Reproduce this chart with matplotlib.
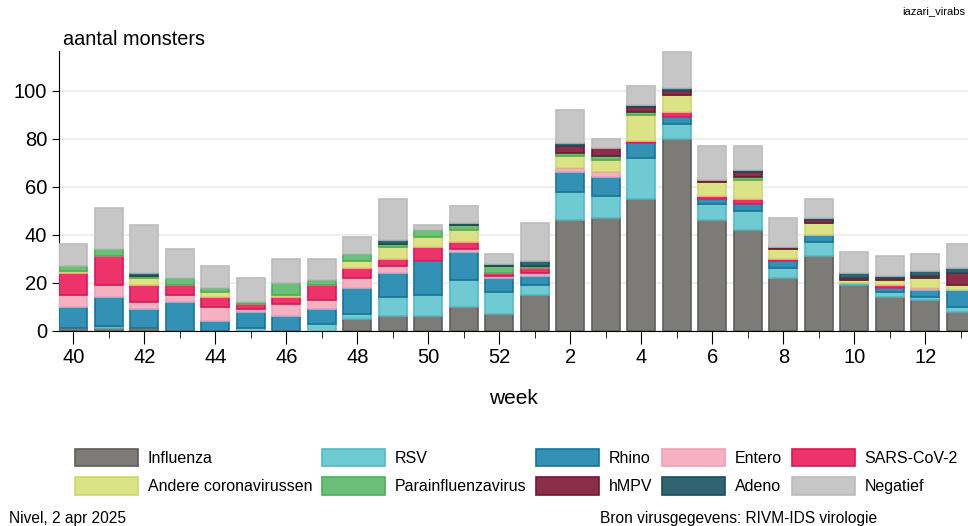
import numpy as np
import matplotlib.pyplot as plt
from matplotlib.patches import Patch

plt.rcParams['font.family'] = ['Liberation Sans', 'DejaVu Sans']

weeks = [40, 41, 42, 43, 44, 45, 46, 47, 48, 49, 50, 51, 52,
         1, 2, 3, 4, 5, 6, 7, 8, 9, 10, 11, 12, 13]

influenza = [1, 1, 1, 0, 0, 0, 0, 0, 5, 6, 6, 10, 7, 15, 46, 47, 55, 80, 46, 42, 22, 31, 19, 14, 13, 8]
rsv = [0, 1, 0, 0, 0, 1, 0, 3, 2, 8, 9, 11, 9, 4, 12, 9, 17, 6, 7, 8, 4, 6, 1, 2, 1, 2]
rhino = [9, 12, 8, 12, 4, 7, 6, 6, 11, 10, 14, 12, 6, 4, 8, 8, 6, 3, 2, 3, 3, 3, 0, 2, 3, 7]
entero = [5, 5, 3, 3, 6, 1, 5, 4, 4, 3, 0, 1, 1, 1, 2, 2, 0, 0, 0, 0, 0, 0, 0, 0, 1, 0]
sars = [9, 12, 7, 4, 4, 2, 3, 6, 4, 3, 6, 3, 1, 2, 0, 0, 1, 2, 1, 2, 1, 0, 0, 1, 0, 0]
corona = [1, 0, 3, 0, 2, 0, 1, 0, 3, 5, 4, 5, 0, 0, 5, 5, 11, 7, 6, 8, 4, 5, 1, 2, 4, 2]
para = [2, 3, 1, 3, 2, 1, 5, 2, 3, 1, 3, 2, 3, 1, 1, 2, 1, 0, 0, 1, 0, 0, 0, 0, 0, 0]
hmpv = [0, 0, 0, 0, 0, 0, 0, 0, 0, 0, 0, 0, 0, 0, 3, 3, 2, 2, 1, 2, 1, 1, 1, 1, 1, 5]
adeno = [0, 0, 1, 0, 0, 0, 0, 0, 0, 2, 0, 1, 1, 2, 1, 0, 1, 1, 0, 1, 0, 1, 2, 1, 2, 2]
negatief = [9, 17, 20, 12, 9, 10, 10, 9, 7, 17, 2, 7, 4, 16, 14, 4, 8, 15, 14, 10, 12, 8, 9, 8, 7, 10]

series = [
    ("Influenza", influenza, "#7d7b78", "#5e5d5b"),
    ("RSV", rsv, "#6fcbd1", "#4cbcc4"),
    ("Rhino", rhino, "#3391b5", "#17739d"),
    ("Entero", entero, "#f5b0c2", "#f29fb4"),
    ("SARS-CoV-2", sars, "#ec336a", "#e0145a"),
    ("Andere coronavirussen", corona, "#dce386", "#cdd86c"),
    ("Parainfluenzavirus", para, "#6bbf78", "#4aae58"),
    ("hMPV", hmpv, "#8b2e4a", "#761636"),
    ("Adeno", adeno, "#316473", "#1b4c5b"),
    ("Negatief", negatief, "#c6c6c6", "#bcbcbc"),
]

fig = plt.figure(figsize=(9.68, 5.26), dpi=100)
ax = fig.add_axes([0.061, 0.371, 0.939, 0.532])

x = np.arange(len(weeks))
bottom = np.zeros(len(weeks))
handles = {}
for name, vals, fc, ec in series:
    vals = np.array(vals, dtype=float)
    ax.bar(x, vals, 0.79, bottom=bottom, color=fc, edgecolor=ec,
           linewidth=1.2, zorder=3)
    bottom += vals
    handles[name] = Patch(facecolor=fc, edgecolor=ec, linewidth=1.2)

ax.set_xlim(-0.4, 25.2)
ax.set_ylim(0, 116.5)
ax.set_yticks([0, 20, 40, 60, 80, 100])
ax.yaxis.grid(True, color="#ebf0f0", linewidth=1.5, zorder=0)
ax.set_axisbelow(True)
for s in ["top", "right"]:
    ax.spines[s].set_visible(False)

ax.set_xticks(x[::2])
ax.set_xticklabels([str(w) for w in weeks[::2]])
ax.set_xticks(x[1::2], minor=True)
ax.tick_params(axis="x", which="major", length=9, labelsize=14.5, pad=3)
ax.tick_params(axis="x", which="minor", length=5)
ax.tick_params(axis="y", length=5, labelsize=14.5)
ax.set_xlabel("week", fontsize=15, labelpad=16)

fig.text(0.065, 0.9145, "aantal monsters", fontsize=14.3, ha="left", va="baseline")
fig.text(0.997, 0.97, "iazari_virabs", fontsize=8, ha="right", va="bottom")
fig.text(0.009, 0.006, "Nivel, 2 apr 2025", fontsize=11.2, ha="left", va="baseline")
fig.text(0.62, 0.006, "Bron virusgegevens: RIVM-IDS virologie", fontsize=11.2,
         ha="left", va="baseline")

order = ["Influenza", "Andere coronavirussen", "RSV", "Parainfluenzavirus",
         "Rhino", "hMPV", "Entero", "Adeno", "SARS-CoV-2", "Negatief"]
fig.legend([handles[n] for n in order], order, ncol=5, loc="upper left",
           bbox_to_anchor=(0.0705, 0.159), borderaxespad=0, frameon=False,
           fontsize=11.5, handlelength=3.94, handleheight=1.3,
           handletextpad=0.63, columnspacing=0.6, labelspacing=0.7)

fig.savefig("out.png", dpi=100)
